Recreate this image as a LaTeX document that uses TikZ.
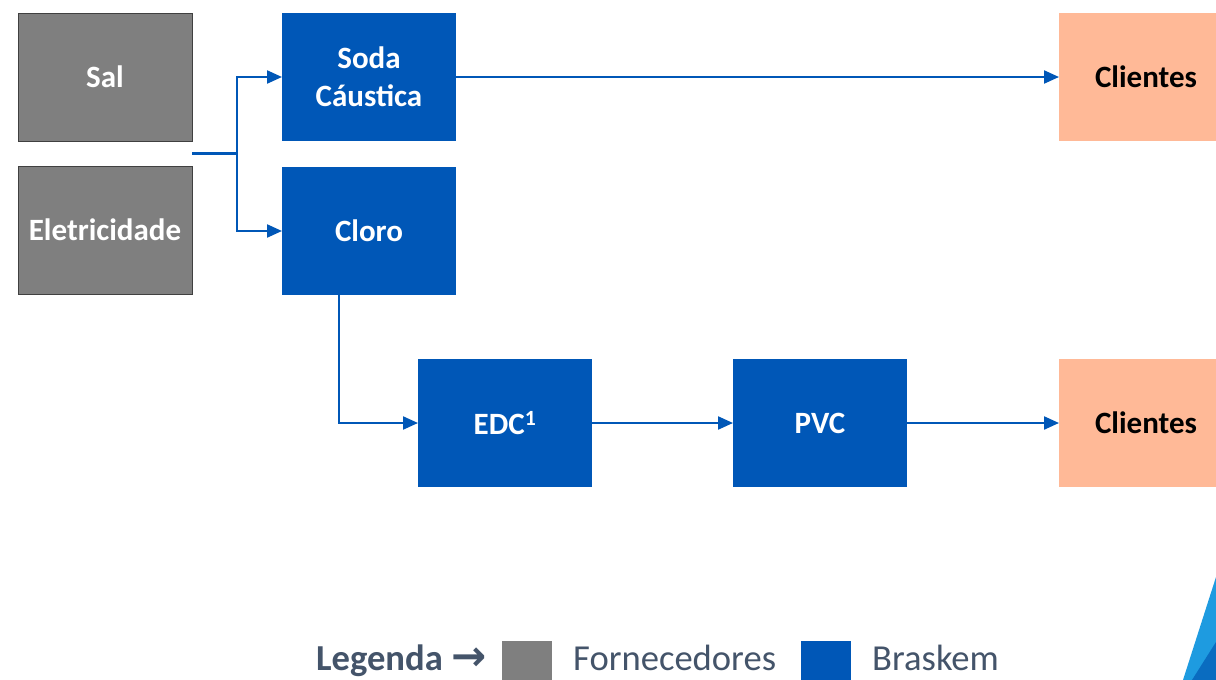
\documentclass[tikz,border=0pt]{standalone}
\usepackage{fontspec}
\setmainfont{Carlito}
\newfontfamily\arrowfont{DejaVu Sans}
\usepackage{tikz}
\usetikzlibrary{arrows.meta,positioning,calc}
\usepackage{xcolor}
\definecolor{bkblue}{HTML}{0057B7}
\definecolor{supgray}{HTML}{7F7F7F}
\definecolor{clipeach}{HTML}{FFB997}
\definecolor{legtext}{HTML}{44546A}
\definecolor{logolight}{HTML}{1E9BE0}
\definecolor{logodark}{HTML}{0A6CC0}

\tikzset{
	box/.style={rectangle, minimum width=174pt, minimum height=128pt, inner sep=0pt, outer sep=0pt, align=center, font=\fontsize{31}{38}\selectfont\bfseries},
	braskem/.style={box, fill=bkblue, text=white},
	supplier/.style={box, fill=supgray, draw=black!75, line width=0.8pt, text=white},
	client/.style={box, fill=clipeach, text=black},
	feed/.style={draw=bkblue, line width=2.2pt},
	flow/.style={feed, -{Triangle[length=15pt,width=13pt]}},
	legbox/.style={rectangle, minimum size=50pt, inner sep=0pt, outer sep=0pt, anchor=north west},
	legtxt/.style={anchor=base west, inner sep=0pt, text=legtext, font=\fontsize{36.6}{44}\selectfont}
}

\begin{document}
\begin{tikzpicture}[x=1pt, y=-1pt]
		
		\clip (0,0) rectangle (1216,680);
		\fill[white] (0,0) rectangle (1216,680);
		
		%sal
		\node[supplier] (sal) at (105,77) {Sal};
		%eletricidade
		\node[supplier, below=25pt of sal] (elet) {Eletricidade};
		%soda
		\node[braskem] (soda) at (369,77) {Soda\\Cáustica};
		%cloro
		\node[braskem, below=26pt of soda] (cloro) {Cloro};
		%edc
		\node[braskem] (edc) at (505,423) {EDC\textsuperscript{1}};
		%pvc
		\node[braskem, right=141pt of edc] (pvc) {PVC};
		%clientes
		\node[client, right=152pt of pvc] (cli2) {Clientes};
		\node[client] (cli1) at (cli2 |- soda) {Clientes};
		
		% sal + eletricidade
		\coordinate (feedin) at ($(sal.south east)!0.5!(elet.north east)$);
		\draw[feed] (feedin) -- ++(45,0) coordinate (split);
		\draw[flow] (split) |- (soda);
		\draw[flow] (split) |- (cloro);
		
		% soda
		\draw[flow] (soda) -- (cli1);
		
		% cloro
		\draw[flow] ([xshift=-30pt]cloro.south) |- (edc);
		
		% edc, pvc
		\draw[flow] (edc) -- (pvc);
		\draw[flow] (pvc) -- (cli2);
		
		% legenda
		\node[legtxt] (leg) at (316,670) {\bfseries Legenda {\arrowfont\bfseries\fontsize{42}{44}\selectfont →}};
		\node[legbox, fill=supgray] (legsup) at (502,641) {};
		\node[legtxt] (legsuptxt) at (573,670) {Fornecedores};
		\node[legbox, fill=bkblue] (legbk) at (801,641) {};
		\node[legtxt] (legbktxt) at (872,670) {Braskem};
		
		% logo
		\fill[logolight] (1183,680) -- (1216,577) -- (1216,680) -- cycle;
		\fill[logodark] (1192,680) -- (1216,642) -- (1216,680) -- cycle;
		
\end{tikzpicture}
\end{document}
